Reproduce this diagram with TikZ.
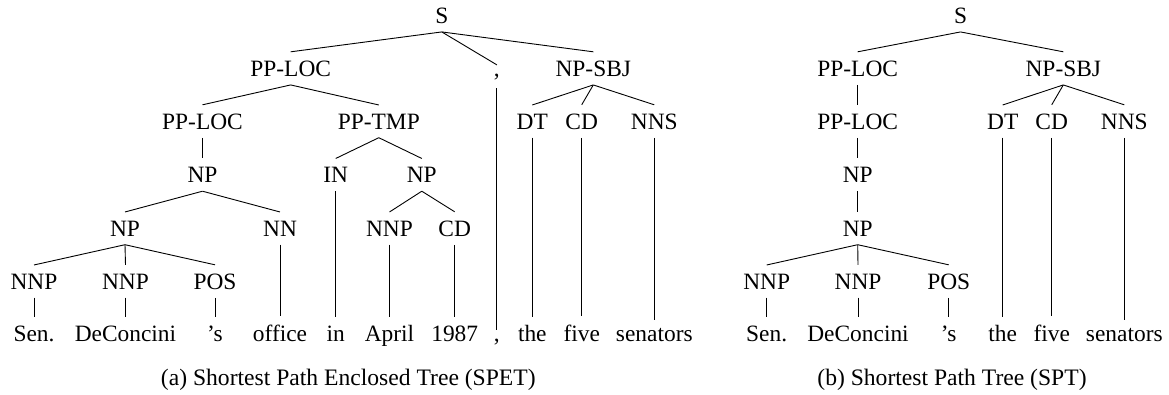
\documentclass[tikz,border=0pt]{standalone}
\usepackage{fontspec}
\setmainfont{Liberation Serif}
\begin{document}
\begin{tikzpicture}[x=1pt,y=-1pt,
  lab/.style={anchor=base,inner sep=8.5pt,font=\fontsize{23.4}{28}\selectfont},
  capt/.style={anchor=base,inner sep=0pt,font=\fontsize{23.6}{28}\selectfont},
  edge/.style={line width=0.9pt}]
\useasboundingbox (0,0) rectangle (1169,394);
% ---------------- tree (a) ----------------
\node[lab] (aS) at (441.8,23) {S};
\node[lab] (aPPLOC) at (290.7,76) {PP-LOC};
\node[lab] (aComma) at (496.9,76) {,};
\node[lab] (aNPSBJ) at (593.3,76) {NP-SBJ};
\node[lab] (aPPLOCb) at (202.5,129) {PP-LOC};
\node[lab] (aPPTMP) at (378.8,129) {PP-TMP};
\node[lab] (aDT) at (532.3,129) {DT};
\node[lab] (aCD) at (581.7,129) {CD};
\node[lab] (aNNS) at (654.3,129) {NNS};
\node[lab] (aNPa) at (202.5,182.5) {NP};
\node[lab] (aIN) at (335.7,182.5) {IN};
\node[lab] (aNPb) at (421.8,182.5) {NP};
\node[lab] (aNPc) at (125,236) {NP};
\node[lab] (aNN) at (280,236) {NN};
\node[lab] (aNNPc) at (389.5,236) {NNP};
\node[lab] (aCDb) at (454.7,236) {CD};
\node[lab] (aNNPa) at (34,289) {NNP};
\node[lab] (aNNPb) at (125.5,289) {NNP};
\node[lab] (aPOS) at (215,289) {POS};
\node[lab] (awSen) at (34,341.5) {Sen.};
\node[lab] (awDe) at (125.5,341.5) {DeConcini};
\node[lab] (awS) at (215,341.5) {'s};
\node[lab] (awOffice) at (280,341.5) {office};
\node[lab] (awIn) at (335.7,341.5) {in};
\node[lab] (awApril) at (389.5,341.5) {April};
\node[lab] (awYear) at (454.7,341.5) {1987};
\node[lab] (awComma) at (496.9,341.5) {,};
\node[lab] (awThe) at (532.3,341.5) {the};
\node[lab] (awFive) at (581.7,341.5) {five};
\node[lab] (awSen2) at (654.3,341.5) {senators};
\foreach \p/\c in {aS/aPPLOC,aS/aComma,aS/aNPSBJ,
  aPPLOC/aPPLOCb,aPPLOC/aPPTMP,aNPSBJ/aDT,aNPSBJ/aCD,aNPSBJ/aNNS,
  aPPLOCb/aNPa,aPPTMP/aIN,aPPTMP/aNPb,
  aNPa/aNPc,aNPa/aNN,aNPb/aNNPc,aNPb/aCDb,
  aNPc/aNNPa,aNPc/aNNPb,aNPc/aPOS,
  aNNPa/awSen,aNNPb/awDe,aPOS/awS,aNN/awOffice,aIN/awIn,aNNPc/awApril,
  aCDb/awYear,aComma/awComma,aDT/awThe,aCD/awFive,aNNS/awSen2}
  \draw[edge] (\p.south) -- (\c.north);
\node[capt] (capa) at (348.3,385.5) {(a) Shortest Path Enclosed Tree (SPET)};
% ---------------- tree (b) ----------------
\node[lab] (bS) at (960.5,23) {S};
\node[lab] (bPPLOC) at (857.7,76) {PP-LOC};
\node[lab] (bNPSBJ) at (1063.3,76) {NP-SBJ};
\node[lab] (bPPLOCb) at (857.7,129) {PP-LOC};
\node[lab] (bDT) at (1002.7,129) {DT};
\node[lab] (bCD) at (1051.7,129) {CD};
\node[lab] (bNNS) at (1124.3,129) {NNS};
\node[lab] (bNPa) at (857.7,182.5) {NP};
\node[lab] (bNPb) at (857.7,236) {NP};
\node[lab] (bNNPa) at (766.7,289) {NNP};
\node[lab] (bNNPb) at (858,289) {NNP};
\node[lab] (bPOS) at (948.7,289) {POS};
\node[lab] (bwSen) at (766.7,341.5) {Sen.};
\node[lab] (bwDe) at (858,341.5) {DeConcini};
\node[lab] (bwS) at (948.7,341.5) {'s};
\node[lab] (bwThe) at (1002.7,341.5) {the};
\node[lab] (bwFive) at (1051.7,341.5) {five};
\node[lab] (bwSen2) at (1124.3,341.5) {senators};
\foreach \p/\c in {bS/bPPLOC,bS/bNPSBJ,
  bPPLOC/bPPLOCb,bNPSBJ/bDT,bNPSBJ/bCD,bNPSBJ/bNNS,
  bPPLOCb/bNPa,bNPa/bNPb,
  bNPb/bNNPa,bNPb/bNNPb,bNPb/bPOS,
  bNNPa/bwSen,bNNPb/bwDe,bPOS/bwS,bDT/bwThe,bCD/bwFive,bNNS/bwSen2}
  \draw[edge] (\p.south) -- (\c.north);
\node[capt] (capb) at (952,385.5) {(b) Shortest Path Tree (SPT)};
\end{tikzpicture}
\end{document}
